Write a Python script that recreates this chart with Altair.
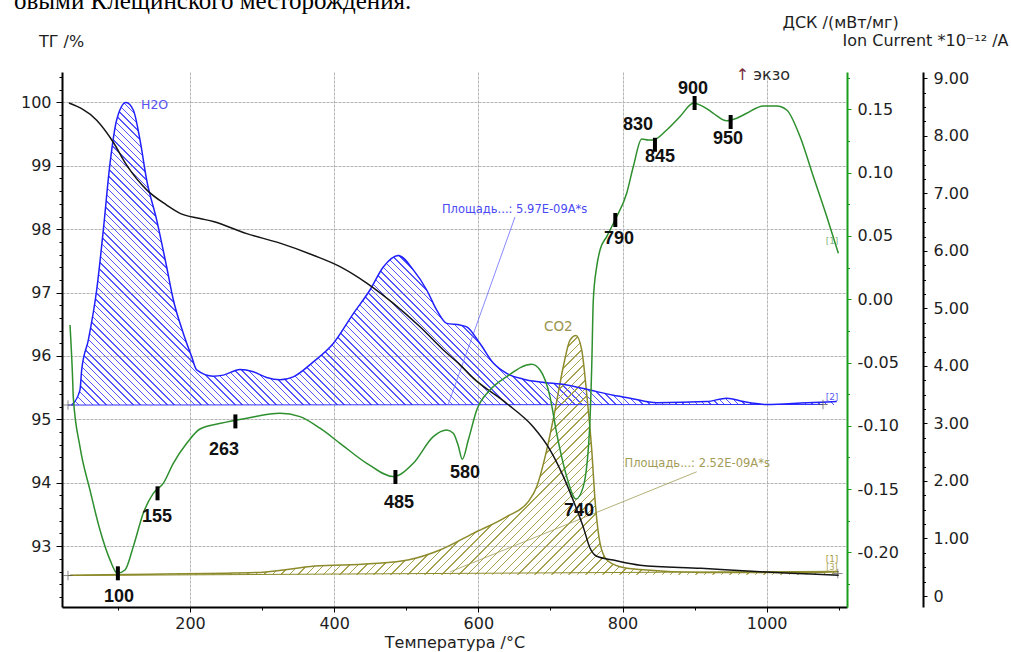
import altair as alt
import numpy as np
import pandas as pd

# ---------------- measured curves ----------------
# DSC signal, mW/mg
dsc_temp = [33.6, 37.3, 38.1, 47.4, 61.3, 75.2, 89.1, 99.2, 109.9, 121.4,
            135.3, 149.1, 163.0, 176.9, 195.5, 213.9, 242.6, 278.7, 324.9, 352.6,
            380.4, 408.1, 445.2, 482.1, 509.8, 537.5, 556.1, 565.3, 571.8, 577.8,
            586.1, 597.8, 616.2, 639.4, 674.0, 685.6, 699.4, 708.7, 722.6, 735.5,
            745.6, 754.0, 757.3, 759.5, 764.2, 768.8, 778.1, 789.6, 805.8, 815.0,
            826.6, 835.8, 841.9, 861.3, 879.8, 898.2, 912.1, 926.0, 944.6, 958.4,
            972.3, 995.3, 1013.9, 1027.8, 1046.2, 1064.7, 1083.3, 1099.4]
dsc_val = [-0.0203, -0.0638, -0.0769, -0.1164, -0.1507, -0.1823, -0.2059, -0.2165, -0.2139, -0.1954,
           -0.1688, -0.1533, -0.1454, -0.1296, -0.1138, -0.1025, -0.0980, -0.0940, -0.0900, -0.0927,
           -0.1019, -0.1138, -0.1296, -0.1401, -0.1296, -0.1085, -0.1033, -0.1059, -0.1150, -0.1264,
           -0.1112, -0.0875, -0.0717, -0.0611, -0.0514, -0.0559, -0.0769, -0.1059, -0.1401, -0.1578,
           -0.1480, -0.1059, -0.0532, -0.0006, 0.0258, 0.0389, 0.0495, 0.0626, 0.0837, 0.1048,
           0.1266, 0.1258, 0.1258, 0.1337, 0.1443, 0.1548, 0.1522, 0.1469, 0.1409, 0.1430,
           0.1469, 0.1527, 0.1527, 0.1495, 0.1285, 0.0969, 0.0653, 0.0363]

# Ion current m/z 18 (H2O), 1e-12 A
h2o_temp = [35.9, 47.4, 49.8, 59.0, 70.6, 79.8, 89.1, 98.4, 111.3, 121.4,
            130.7, 140.0, 153.8, 167.7, 176.9, 190.7, 202.4, 209.3, 232.4, 246.2,
            269.4, 287.8, 306.4, 324.9, 343.3, 371.1, 398.8, 426.6, 449.7, 468.2,
            489.0, 509.8, 528.4, 542.3, 556.1, 574.6, 583.9, 602.3, 620.8, 639.4,
            662.4, 685.6, 722.6, 754.9, 787.2, 810.4, 847.4, 916.8, 944.6, 967.6,
            1000.0, 1055.5, 1097.2]
h2o_val = [3.32, 3.58, 3.93, 4.45, 5.32, 6.36, 7.52, 8.28, 8.58, 8.45,
           7.93, 7.23, 6.54, 5.72, 5.15, 4.57, 4.16, 3.93, 3.82, 3.84,
           3.94, 3.90, 3.80, 3.76, 3.81, 4.07, 4.39, 4.91, 5.32, 5.72,
           5.92, 5.67, 5.32, 4.97, 4.74, 4.71, 4.68, 4.39, 4.05, 3.87,
           3.77, 3.72, 3.67, 3.58, 3.49, 3.44, 3.36, 3.38, 3.44, 3.38,
           3.33, 3.36, 3.38]
h2o_base = 3.32

# Ion current m/z 44 (CO2), 1e-12 A
co2_temp = [33.6, 144.5, 297.1, 373.4, 449.7, 503.8, 546.8, 593.0, 639.4, 669.3,
            681.0, 694.9, 706.4, 717.9, 727.2, 735.5, 743.4, 750.3, 757.3, 761.9,
            768.8, 778.1, 796.6, 824.3, 908.9, 1061.5, 1099.9]
co2_val = [0.36, 0.38, 0.41, 0.52, 0.56, 0.63, 0.80, 1.09, 1.38, 1.64,
           1.90, 2.54, 3.23, 3.99, 4.45, 4.53, 4.28, 3.52, 2.54, 1.67,
           0.92, 0.63, 0.51, 0.46, 0.41, 0.41, 0.42]
co2_base = 0.37

# Thermogravimetry, %
tg_temp = [32.2, 70.6, 93.2, 112.2, 140.0, 167.7, 186.2, 213.9, 232.4, 278.7,
           324.9, 371.1, 408.1, 445.2, 482.1, 519.1, 551.9, 574.6, 593.0, 639.4,
           676.3, 699.4, 717.9, 731.7, 745.6, 754.9, 764.2, 787.2, 824.3, 908.9,
           985.2, 1061.5, 1099.9]
tg_val = [99.99, 99.72, 99.38, 99.01, 98.62, 98.38, 98.25, 98.17, 98.12, 97.93,
          97.78, 97.59, 97.41, 97.15, 96.83, 96.46, 96.09, 95.86, 95.65, 95.25,
          94.88, 94.52, 94.10, 93.72, 93.30, 92.97, 92.84, 92.78, 92.70, 92.65,
          92.60, 92.56, 92.54]

# DSC characteristic points (markers) and their labels
peak_temp = [100, 155, 263, 485, 790, 845, 900, 950]
peak_dsc = [-0.2165, -0.1533, -0.0965, -0.1404, 0.0626, 0.1220, 0.1550, 0.1400]
label_text = ["100", "155", "263", "485", "580", "740", "790", "830", "845", "900", "950"]
label_temp = [101.6, 154.3, 247.2, 489.9, 581.5, 739.7, 795.2, 821.5, 852.0, 897.8, 946.3]
label_dsc = [-0.2352, -0.1720, -0.1190, -0.1609, -0.1372, -0.1672, 0.0476, 0.1377, 0.1124, 0.1661, 0.1266]

# baselines and leader lines on the ion-current scale
base_t0 = [30.8, 30.8]
base_t1 = [1078.1, 1095.0]
base_v0 = [h2o_base, 0.356]
base_v1 = [3.33, 0.43]
base_col = ["#3030ff", "#8c8a2a"]
lead_t0 = [650.9, 903.0]
lead_t1 = [557.9, 560.9]
lead_v0 = [6.59, 2.16]
lead_v1 = [3.32, 0.42]
lead_col = ["#6a6aff", "#a09c55"]
cross_t = [30.8, 1078.1, 30.8, 1098.6]
cross_v = [3.32, 3.33, 0.356, 0.39]

# ---------------- scales / layout ----------------
T_DOM = [22.5, 1111.4]
TG_DOM = [92.04, 100.48]
DSC_DOM = [-0.2431, 0.1795]
ION_DOM = [-0.191, 9.110]
PW, PH = 785, 535

FONT = "DejaVu Sans"
GRID = "#b4b4b4"
GREEN_AX = "#1a9e1a"
GREEN = "#2e8f2e"
BLUE = "#2020ff"
BLUE_H = "#5555ff"
OLIVE = "#8c8a2a"
OLIVE_H = "#a6a24e"
INK = "#1e1e1e"

xs = alt.Scale(domain=T_DOM, nice=False, zero=False)
tgs = alt.Scale(domain=TG_DOM, nice=False, zero=False)
dscs = alt.Scale(domain=DSC_DOM, nice=False, zero=False)
ions = alt.Scale(domain=ION_DOM, nice=False, zero=False)


def hatch(color, t_vals, v_vals, base, dom, step, rising, lw=1.0):
    """Diagonal hatching as a striped linear gradient over the area's bounding box."""
    kx = PW / (T_DOM[1] - T_DOM[0])
    ky = PH / (dom[1] - dom[0])
    bw = (max(t_vals) - min(t_vals)) * kx
    bh = (max(max(v_vals), base) - min(min(v_vals), base)) * ky
    s = (bw + bh) / (bw ** 2 + bh ** 2)
    n = int(round((bw + bh) / step))
    frac = lw / (step / np.sqrt(2))
    clear = "rgba(255,255,255,0)"
    stops = []
    for i in range(n):
        a = i / n
        b = min((i + frac) / n, 1.0)
        stops += [alt.GradientStop(offset=a, color=clear),
                  alt.GradientStop(offset=a, color=color),
                  alt.GradientStop(offset=b, color=color),
                  alt.GradientStop(offset=b, color=clear)]
    if rising:
        return alt.Gradient(gradient="linear", stops=stops, x1=0, y1=0, x2=s * bw, y2=s * bh)
    return alt.Gradient(gradient="linear", stops=stops, x1=0, y1=1, x2=s * bw, y2=1 - s * bh)


# ---------------- tables ----------------
dsc_df = pd.DataFrame({"T": dsc_temp, "v": dsc_val})
h2o_df = pd.DataFrame({"T": h2o_temp, "v": h2o_val})
co2_df = pd.DataFrame({"T": co2_temp, "v": co2_val})
tg_df = pd.DataFrame({"T": tg_temp, "v": tg_val})
peak_df = pd.DataFrame({"T": peak_temp, "v": peak_dsc})
lab_df = pd.DataFrame({"T": label_temp, "v": label_dsc, "s": label_text})
base_df = pd.DataFrame({"T": base_t0, "t1": base_t1, "v": base_v0, "v1": base_v1, "c": base_col})
lead_df = pd.DataFrame({"T": lead_t0, "t1": lead_t1, "v": lead_v0, "v1": lead_v1, "c": lead_col})
cross_df = pd.DataFrame({"T": cross_t, "v": cross_v})

X = alt.X("T:Q", scale=xs, axis=None)

# ---------------- axes ----------------
x_axis = alt.Axis(orient="bottom", values=[200, 400, 600, 800, 1000], format="d", grid=True,
                  gridColor=GRID, gridDash=[3, 1], tickSize=5, tickColor="#000", domainColor="#000",
                  domainWidth=2, labelFont=FONT, labelFontSize=16, labelColor=INK, labelPadding=3,
                  title="Температура /°C", titleFont=FONT, titleFontSize=16, titleFontWeight="normal",
                  titleColor=INK, titleY=35, titleBaseline="middle")
x_minor = alt.Axis(orient="bottom", values=list(range(100, 1101, 100)), labels=False, domain=False,
                   grid=False, tickSize=3, tickColor="#000", title="")

tg_axis = alt.Axis(orient="left", values=list(range(93, 101)), grid=True, gridColor=GRID,
                   gridDash=[3, 1], tickSize=6, tickColor="#000", domainColor="#000", domainWidth=2,
                   labelFont=FONT, labelFontSize=16, labelColor=INK, labelPadding=5,
                   title="ТГ /%", titleFont=FONT, titleFontSize=16, titleFontWeight="normal",
                   titleColor=INK, titleAngle=0, titleAlign="center", titleBaseline="middle",
                   titleX=-1, titleY=-31)
tg_minor = alt.Axis(orient="left", values=[round(92.2 + 0.2 * i, 1) for i in range(42) if i % 5 != 4],
                    labels=False, domain=False, grid=False, tickSize=3, tickColor="#000", title="")

dsc_axis = alt.Axis(orient="right", values=[-0.20, -0.15, -0.10, -0.05, 0.0, 0.05, 0.10, 0.15],
                    labelExpr="replace(format(datum.value, '.2f'), '\u2212', '-')",
                    grid=False, tickSize=4, tickColor=GREEN_AX, domainColor=GREEN_AX, domainWidth=2,
                    labelFont=FONT, labelFontSize=16, labelColor=INK, labelPadding=6,
                    title="ДСК /(мВт/мг)", titleFont=FONT, titleFontSize=16, titleFontWeight="normal",
                    titleColor=INK, titleAngle=0, titleAlign="center", titleBaseline="middle",
                    titleX=-7, titleY=-50)
dsc_minor = alt.Axis(orient="right", values=[round(-0.225 + 0.05 * i, 3) for i in range(9)],
                     labels=False, domain=False, grid=False, tickSize=2.5, tickColor=GREEN_AX, title="")

ion_axis = alt.Axis(orient="right", offset=76, values=list(range(0, 10)),
                    labelExpr="datum.value == 0 ? '0' : format(datum.value, '.2f')",
                    grid=False, tickSize=4, tickColor="#000", domainColor="#000", domainWidth=2,
                    labelFont=FONT, labelFontSize=16, labelColor=INK, labelPadding=6,
                    title="Ion Current *10\u207b\u00b9\u00b2 /A", titleFont=FONT, titleFontSize=16,
                    titleFontWeight="normal", titleColor=INK, titleAngle=0, titleAlign="right",
                    titleBaseline="middle", titleX=85, titleY=-32)
ion_minor = alt.Axis(orient="right", offset=76, values=[i * 0.25 for i in range(37) if i % 4 != 0],
                     labels=False, domain=False, grid=False, tickSize=2.5, tickColor="#000", title="")

# ---------------- ion current group ----------------
# every child carries the same axis so the shared scale keeps a single ion axis
Yi = alt.Y("v:Q", scale=ions, axis=ion_axis)
h2o_area = alt.Chart(h2o_df).mark_area(
    fill=hatch(BLUE_H, h2o_temp, h2o_val, h2o_base, ION_DOM, 6.8, rising=False),
    interpolate="monotone").encode(x=X, y=Yi, y2=alt.datum(h2o_base))
co2_area = alt.Chart(co2_df).mark_area(
    fill=hatch(OLIVE_H, co2_temp, co2_val, co2_base, ION_DOM, 8.5, rising=True),
    interpolate="monotone").encode(x=X, y=Yi, y2=alt.datum(co2_base))
h2o_line = alt.Chart(h2o_df).mark_line(color=BLUE, strokeWidth=1.5, interpolate="monotone").encode(x=X, y=Yi)
co2_line = alt.Chart(co2_df).mark_line(color=OLIVE, strokeWidth=1.5, interpolate="monotone").encode(x=X, y=Yi)
bases = alt.Chart(base_df).mark_rule(strokeWidth=1).encode(
    x=X, x2="t1:Q", y=Yi, y2="v1:Q", color=alt.Color("c:N", scale=None))
leads = alt.Chart(lead_df).mark_rule(strokeWidth=0.8).encode(
    x=X, x2="t1:Q", y=Yi, y2="v1:Q", color=alt.Color("c:N", scale=None))
crosses = alt.Chart(cross_df).mark_point(shape="M-1,0L1,0M0,-1L0,1", size=90, filled=False,
                                         stroke="#555", strokeWidth=1).encode(x=X, y=Yi)


def ion_text(s, t, v, color, size, align="center"):
    d = pd.DataFrame({"T": [t], "v": [v], "s": [s]})
    return alt.Chart(d).mark_text(font=FONT, fontSize=size, color=color, align=align,
                                  baseline="middle").encode(x=X, y=Yi, text="s:N")


ion_texts = [
    ion_text("H2O", 132.1, 8.53, "#5a4ff0", 12.5, "left"),
    ion_text("CO2", 711.0, 4.68, "#9c9450", 13.5),
    ion_text("Площадь...: 5.97E-09A*s", 650.4, 6.71, "#4a4af5", 11.5),
    ion_text("Площадь...: 2.52E-09A*s", 903.6, 2.29, "#a39c58", 11.5),
    ion_text("[2]", 1090.6, 3.46, "#5a5af0", 9),
    ion_text("[1]", 1090.6, 0.64, "#aaa04c", 9),
    ion_text("[3]", 1090.6, 0.49, "#aaa04c", 8),
]
ion_group = alt.layer(h2o_area, co2_area, bases, leads, co2_line, h2o_line, crosses, *ion_texts)
ion_ticks = alt.Chart(h2o_df).mark_line(opacity=0).encode(x=X, y=alt.Y("v:Q", scale=ions, axis=ion_minor))

# ---------------- TG group ----------------
tg_line = alt.Chart(tg_df).mark_line(color="#151515", strokeWidth=1.5, interpolate="monotone").encode(
    x=alt.X("T:Q", scale=xs, axis=x_axis), y=alt.Y("v:Q", scale=tgs, axis=tg_axis))
tg_ticks = alt.Chart(tg_df).mark_line(opacity=0).encode(
    x=alt.X("T:Q", scale=xs, axis=x_minor), y=alt.Y("v:Q", scale=tgs, axis=tg_minor))
header = alt.Chart(pd.DataFrame({"s": ["овыми Клещинского месторождения."]})).mark_text(
    font="Liberation Serif", fontSize=25, color="#000", align="left", baseline="alphabetic").encode(
    text="s:N", x=alt.value(-48), y=alt.value(-63))

# ---------------- DSC group ----------------
Yd = alt.Y("v:Q", scale=dscs, axis=dsc_axis)
dsc_line = alt.Chart(dsc_df).mark_line(color=GREEN, strokeWidth=1.5, interpolate="monotone").encode(x=X, y=Yd)
peaks = alt.Chart(peak_df).mark_tick(orient="vertical", size=14, thickness=4, color="#000",
                                     opacity=1).encode(x=X, y=Yd)
peak_labels = alt.Chart(lab_df).mark_text(font="Liberation Sans", fontSize=18, fontWeight="bold",
                                          color="#111", align="center", baseline="middle").encode(
    x=X, y=Yd, text="s:N")


def dsc_text(s, t, v, color, size, align="center", font=FONT):
    d = pd.DataFrame({"T": [t], "v": [v], "s": [s]})
    return alt.Chart(d).mark_text(font=font, fontSize=size, color=color, align=align,
                                  baseline="middle").encode(x=X, y=Yd, text="s:N")


dsc_group = alt.layer(
    dsc_line, peaks, peak_labels,
    dsc_text("[1]", 1090.6, 0.046, "#7cb87c", 9),
    dsc_text("\u2191", 966.5, 0.1769, "#7b3040", 16),
    dsc_text("экзо", 981.4, 0.1769, "#2a2a2a", 16, "left"),
)
dsc_ticks = alt.Chart(dsc_df).mark_line(opacity=0).encode(x=X, y=alt.Y("v:Q", scale=dscs, axis=dsc_minor))

chart = alt.layer(
    ion_group, ion_ticks, tg_ticks, alt.layer(tg_line, header), dsc_group, dsc_ticks
).resolve_scale(y="independent", x="independent").properties(
    width=PW, height=PH,
    padding={"left": 62, "top": 72, "right": 164, "bottom": 45},
    autosize=alt.AutoSizeParams(type="none"),
    background="white",
).configure_view(stroke=None)

chart.save("out.html", embed_options={"renderer": "svg", "actions": False})
